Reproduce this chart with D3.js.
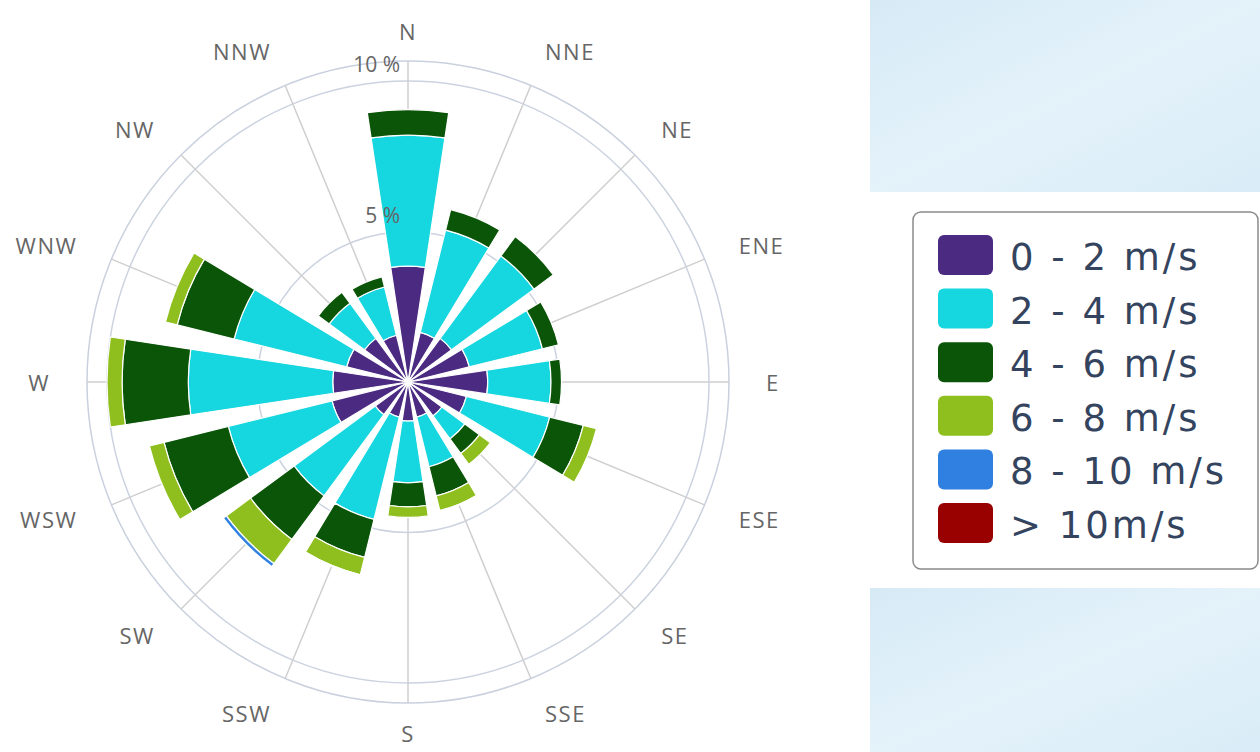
<!DOCTYPE html>
<html>
<head>
<meta charset="utf-8">
<script src="https://cdn.jsdelivr.net/npm/d3@7/dist/d3.min.js"></script>
<style>
  html, body { margin: 0; padding: 0; background: #fff; }
  svg { display: block; }
</style>
</head>
<body>
<div id="chart"></div>
<script>
// wind directions, clockwise from north
const directions = ["N", "NNE", "NE", "ENE", "E", "ESE", "SE", "SSE",
                    "S", "SSW", "SW", "WSW", "W", "WNW", "NW", "NNW"];
const speedBands = ["0 - 2 m/s", "2 - 4 m/s", "4 - 6 m/s", "6 - 8 m/s", "8 - 10 m/s", "> 10m/s"];
const bandColors = ["#4b2a82", "#16d6e0", "#0b5509", "#8fbf1e", "#2f80e0", "#990000"];

// frequency (%) per speed band, one value per direction
const speed0to2  = [3.85, 1.7, 1.8, 2.1, 2.65, 2.0, 1.4, 1.2, 1.3, 1.2, 1.35, 2.6, 2.5, 2.1, 1.8, 1.6];
const speed2to4  = [4.35, 3.5, 3.4, 2.5, 2.1, 2.85, 0.95, 1.7, 2.05, 3.5, 3.35, 3.55, 4.8, 3.85, 1.45, 1.65];
const speed4to6  = [0.85, 0.7, 0.8, 0.55, 0.35, 1.15, 0.6, 1.0, 0.8, 1.3, 1.8, 2.2, 2.2, 1.95, 0.45, 0.35];
const speed6to8  = [0, 0, 0, 0, 0, 0.45, 0.45, 0.5, 0.35, 0.6, 1.0, 0.5, 0.5, 0.4, 0, 0];
const speed8to10 = [0, 0, 0, 0, 0, 0, 0, 0.03, 0, 0.03, 0.12, 0, 0, 0, 0, 0];
const speedOver10 = [0, 0, 0, 0, 0, 0, 0, 0, 0, 0, 0, 0, 0, 0, 0, 0];

const radialTicks = [5, 10];

const width = 1260, height = 752;
const cx = 408, cy = 382;
const outerRadius = 321;

const svg = d3.select("#chart").append("svg")
    .attr("width", width)
    .attr("height", height);

// light blue panels on the right
const defs = svg.append("defs");
const grad = defs.append("linearGradient")
    .attr("id", "panelGrad")
    .attr("x1", "0%").attr("y1", "0%").attr("x2", "100%").attr("y2", "100%");
grad.append("stop").attr("offset", "0%").attr("stop-color", "#d6eaf6");
grad.append("stop").attr("offset", "50%").attr("stop-color", "#e4f2fa");
grad.append("stop").attr("offset", "100%").attr("stop-color", "#d9ecf7");

svg.append("rect").attr("x", 870).attr("y", 0).attr("width", 390).attr("height", 192)
    .attr("fill", "url(#panelGrad)");
svg.append("rect").attr("x", 870).attr("y", 588).attr("width", 390).attr("height", 164)
    .attr("fill", "url(#panelGrad)");

const rows = directions.map((dir, i) => ({
    dir: dir,
    b0: speed0to2[i], b1: speed2to4[i], b2: speed4to6[i],
    b3: speed6to8[i], b4: speed8to10[i], b5: speedOver10[i]
}));
const keys = ["b0", "b1", "b2", "b3", "b4", "b5"];

const r = d3.scaleLinear().domain([0, 10]).range([0, 301]);
const angle = d3.scaleLinear().domain([0, directions.length]).range([0, 2 * Math.PI]);
const halfWidth = (17.2 / 2) * Math.PI / 180;

const g = svg.append("g").attr("transform", `translate(${cx},${cy})`);

// grid circles
g.append("circle").attr("r", outerRadius)
    .attr("fill", "none").attr("stroke", "#c9d0de").attr("stroke-width", 1.5);
g.selectAll(".grid-circle")
    .data(radialTicks)
    .join("circle")
    .attr("class", "grid-circle")
    .attr("r", d => r(d))
    .attr("fill", "none")
    .attr("stroke", "#ccd3e0")
    .attr("stroke-width", 1.5);

// spokes
g.selectAll(".spoke")
    .data(directions)
    .join("line")
    .attr("class", "spoke")
    .attr("x1", 0).attr("y1", 0)
    .attr("x2", (d, i) => outerRadius * Math.sin(angle(i)))
    .attr("y2", (d, i) => -outerRadius * Math.cos(angle(i)))
    .attr("stroke", "#cfcfcf")
    .attr("stroke-width", 1.5);

// stacked wedges
const stacked = d3.stack().keys(keys)(rows);
const arc = d3.arc()
    .innerRadius(d => r(d[0]))
    .outerRadius(d => r(d[1]))
    .startAngle(d => angle(d.idx) - halfWidth)
    .endAngle(d => angle(d.idx) + halfWidth);

stacked.forEach((layer, k) => {
    const segs = layer.map((d, i) => Object.assign([d[0], d[1]], { idx: i }))
        .filter(d => d[1] - d[0] > 0);
    g.append("g")
        .selectAll("path")
        .data(segs)
        .join("path")
        .attr("d", arc)
        .attr("fill", bandColors[k])
        .attr("stroke", "#fff")
        .attr("stroke-width", 1.2)
        .attr("stroke-linejoin", "round");
});

// radial axis labels (drawn over the bars)
g.selectAll(".r-label")
    .data(radialTicks)
    .join("text")
    .attr("class", "r-label")
    .attr("x", -8)
    .attr("y", d => -r(d) - 9)
    .attr("text-anchor", "end")
    .attr("font-family", "Open Sans, sans-serif")
    .attr("font-size", 21)
    .attr("fill", "#666")
    .text(d => d + " %");

// direction labels, aligned left/right like a polar x axis
const labelRadius = (i) => (i % 8 === 0 ? 351 : 358);
g.selectAll(".dir-label")
    .data(directions)
    .join("text")
    .attr("class", "dir-label")
    .attr("font-family", "Open Sans, sans-serif")
    .attr("font-size", 22)
    .attr("letter-spacing", 1.5)
    .attr("fill", "#666")
    .attr("dominant-baseline", "central")
    .attr("text-anchor", (d, i) => {
        const s = Math.sin(angle(i));
        return Math.abs(s) < 0.1 ? "middle" : (s > 0 ? "start" : "end");
    })
    .attr("x", (d, i) => labelRadius(i) * Math.sin(angle(i)))
    .attr("y", (d, i) => -labelRadius(i) * Math.cos(angle(i)))
    .text(d => d);

// legend
const legend = svg.append("g").attr("transform", "translate(913,212)");
legend.append("rect")
    .attr("width", 345).attr("height", 357)
    .attr("rx", 8).attr("ry", 8)
    .attr("fill", "#fff")
    .attr("stroke", "#8a8a8a")
    .attr("stroke-width", 1.5);

const items = legend.selectAll(".item")
    .data(speedBands)
    .join("g")
    .attr("class", "item")
    .attr("transform", (d, i) => `translate(25,${23 + i * 53.6})`);

items.append("rect")
    .attr("width", 55).attr("height", 40)
    .attr("rx", 6).attr("ry", 6)
    .attr("fill", (d, i) => bandColors[i]);

items.append("text")
    .attr("x", 72)
    .attr("y", 35)
    .attr("font-family", "DejaVu Sans, sans-serif")
    .attr("font-size", 37)
    .attr("letter-spacing", 3)
    .attr("fill", "#34445e")
    .text(d => d);
</script>
</body>
</html>
